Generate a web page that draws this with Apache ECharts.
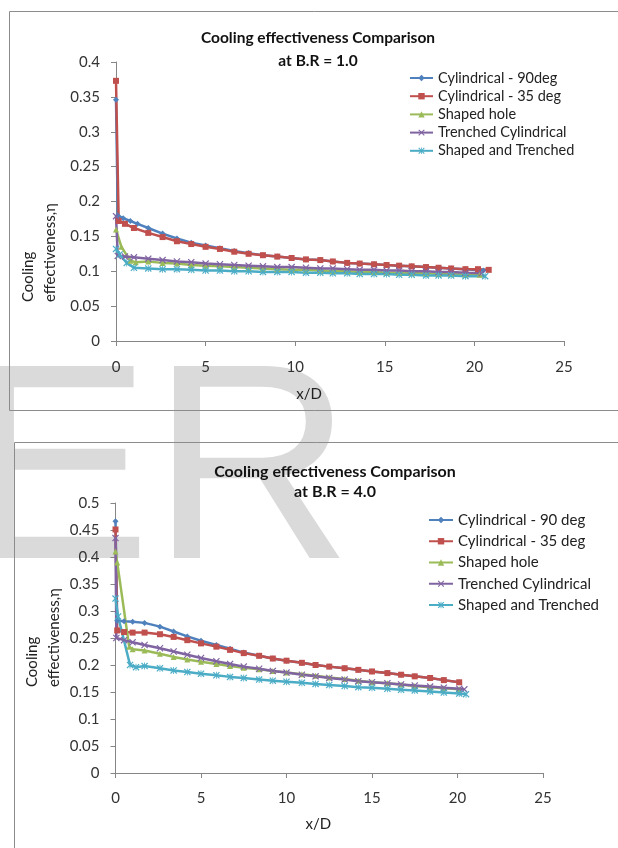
<!DOCTYPE html>
<html>
<head>
<meta charset="utf-8">
<title>Cooling effectiveness Comparison</title>
<script src="https://cdn.jsdelivr.net/npm/echarts@6/dist/echarts.min.js"></script>
<style>
  html, body { margin: 0; padding: 0; background: #fff; }
  #main { width: 618px; height: 848px; }
</style>
</head>
<body>
<div id="main"></div>
<script>
// series names
var namesBR1 = ['Cylindrical - 90deg', 'Cylindrical - 35 deg', 'Shaped hole', 'Trenched Cylindrical', 'Shaped and Trenched'];
var namesBR4 = ['Cylindrical - 90 deg', 'Cylindrical - 35 deg', 'Shaped hole', 'Trenched Cylindrical', 'Shaped and Trenched'];

// ---- B.R = 1.0 (x/D, eta) ----
var br1_cyl90_x = [0, 0.1, 0.4, 0.8, 1.2, 1.8, 2.6, 3.4, 4.2, 5.0, 5.8, 6.6, 7.4, 8.2, 9.0, 9.8, 10.6, 11.4, 12.1, 12.9, 13.6, 14.4, 15.1, 15.8, 16.5, 17.3, 18.0, 18.7, 19.5, 20.5];
var br1_cyl90_y = [0.346, 0.18, 0.176, 0.172, 0.168, 0.162, 0.154, 0.147, 0.141, 0.137, 0.133, 0.129, 0.126, 0.123, 0.121, 0.119, 0.117, 0.116, 0.114, 0.112, 0.111, 0.110, 0.109, 0.108, 0.107, 0.106, 0.105, 0.104, 0.103, 0.101];

var br1_cyl35_x = [0, 0.15, 0.5, 1.0, 1.8, 2.6, 3.4, 4.2, 5.0, 5.8, 6.6, 7.4, 8.2, 9.0, 9.8, 10.6, 11.4, 12.1, 12.9, 13.6, 14.4, 15.1, 15.8, 16.5, 17.3, 18.0, 18.7, 19.5, 20.2, 20.8];
var br1_cyl35_y = [0.373, 0.172, 0.168, 0.162, 0.155, 0.149, 0.143, 0.139, 0.135, 0.132, 0.128, 0.125, 0.123, 0.121, 0.119, 0.117, 0.116, 0.114, 0.112, 0.111, 0.110, 0.109, 0.108, 0.107, 0.106, 0.105, 0.104, 0.103, 0.103, 0.102];

var br1_shaped_x = [0, 0.3, 0.8, 1.1, 1.8, 2.6, 3.4, 4.2, 5.0, 5.8, 6.6, 7.4, 8.2, 9.0, 9.8, 10.6, 11.4, 12.1, 12.9, 13.6, 14.4, 15.1, 15.8, 16.5, 17.3, 18.0, 18.7, 19.5, 20.3];
var br1_shaped_y = [0.16, 0.135, 0.115, 0.113, 0.114, 0.112, 0.111, 0.109, 0.108, 0.107, 0.106, 0.105, 0.104, 0.103, 0.102, 0.102, 0.101, 0.100, 0.100, 0.099, 0.099, 0.098, 0.098, 0.097, 0.097, 0.096, 0.096, 0.095, 0.095];

var br1_trench_x = [0, 0.1, 0.5, 1.0, 1.8, 2.6, 3.4, 4.2, 5.0, 5.8, 6.6, 7.4, 8.2, 9.0, 9.8, 10.6, 11.4, 12.1, 12.9, 13.6, 14.4, 15.1, 15.8, 16.5, 17.3, 18.0, 18.7, 19.5, 20.4];
var br1_trench_y = [0.179, 0.122, 0.121, 0.12, 0.118, 0.116, 0.114, 0.113, 0.111, 0.110, 0.109, 0.108, 0.107, 0.106, 0.106, 0.105, 0.104, 0.104, 0.103, 0.102, 0.102, 0.101, 0.101, 0.100, 0.100, 0.099, 0.099, 0.098, 0.097];

var br1_shtr_x = [0, 0.2, 0.6, 1.0, 1.8, 2.6, 3.4, 4.2, 5.0, 5.8, 6.6, 7.4, 8.2, 9.0, 9.8, 10.6, 11.4, 12.1, 12.9, 13.6, 14.4, 15.1, 15.8, 16.5, 17.3, 18.0, 18.7, 19.5, 20.6];
var br1_shtr_y = [0.132, 0.124, 0.112, 0.105, 0.104, 0.103, 0.103, 0.102, 0.101, 0.101, 0.100, 0.100, 0.099, 0.099, 0.099, 0.098, 0.098, 0.097, 0.097, 0.096, 0.096, 0.096, 0.095, 0.095, 0.094, 0.094, 0.094, 0.093, 0.093];

// ---- B.R = 4.0 ----
var br4_cyl90_x = [0, 0.1, 0.5, 1.0, 1.7, 2.6, 3.4, 4.2, 5.0, 5.9, 6.7, 7.5, 8.4, 9.2, 10.0, 10.9, 11.7, 12.5, 13.4, 14.2, 15.0, 15.9, 16.7, 17.5, 18.4, 19.2, 20.1];
var br4_cyl90_y = [0.466, 0.282, 0.281, 0.280, 0.278, 0.271, 0.262, 0.253, 0.245, 0.237, 0.230, 0.223, 0.217, 0.212, 0.208, 0.204, 0.200, 0.197, 0.194, 0.191, 0.188, 0.185, 0.182, 0.179, 0.176, 0.172, 0.168];

var br4_cyl35_x = [0, 0.1, 0.5, 1.0, 1.7, 2.6, 3.4, 4.2, 5.0, 5.9, 6.7, 7.5, 8.4, 9.2, 10.0, 10.9, 11.7, 12.5, 13.4, 14.2, 15.0, 15.9, 16.7, 17.5, 18.4, 19.2, 20.1];
var br4_cyl35_y = [0.451, 0.264, 0.261, 0.260, 0.260, 0.257, 0.252, 0.246, 0.240, 0.234, 0.228, 0.222, 0.217, 0.212, 0.208, 0.204, 0.200, 0.197, 0.194, 0.191, 0.188, 0.185, 0.182, 0.179, 0.176, 0.172, 0.168];

var br4_shaped_x = [0, 0.1, 0.8, 1.0, 1.7, 2.6, 3.4, 4.2, 5.0, 5.9, 6.7, 7.5, 8.4, 9.2, 10.0, 10.9, 11.7, 12.5, 13.4, 14.2, 15.0, 15.9, 16.7, 17.5, 18.4, 19.2, 20.1];
var br4_shaped_y = [0.41, 0.39, 0.234, 0.229, 0.227, 0.221, 0.215, 0.210, 0.206, 0.202, 0.198, 0.195, 0.192, 0.189, 0.186, 0.183, 0.180, 0.177, 0.174, 0.171, 0.168, 0.166, 0.164, 0.161, 0.159, 0.157, 0.155];

var br4_trench_x = [0, 0.05, 0.5, 1.0, 1.7, 2.6, 3.4, 4.2, 5.0, 5.9, 6.7, 7.5, 8.4, 9.2, 10.0, 10.9, 11.7, 12.5, 13.4, 14.2, 15.0, 15.9, 16.7, 17.5, 18.4, 19.2, 20.1, 20.4];
var br4_trench_y = [0.435, 0.25, 0.246, 0.242, 0.237, 0.231, 0.225, 0.219, 0.213, 0.207, 0.202, 0.197, 0.193, 0.189, 0.186, 0.182, 0.179, 0.176, 0.173, 0.170, 0.168, 0.166, 0.164, 0.162, 0.160, 0.158, 0.156, 0.155];

var br4_shtr_x = [0, 0.15, 0.85, 1.2, 1.7, 2.6, 3.4, 4.2, 5.0, 5.9, 6.7, 7.5, 8.4, 9.2, 10.0, 10.9, 11.7, 12.5, 13.4, 14.2, 15.0, 15.9, 16.7, 17.5, 18.4, 19.2, 20.1, 20.5];
var br4_shtr_y = [0.323, 0.29, 0.2, 0.196, 0.198, 0.194, 0.19, 0.187, 0.184, 0.181, 0.178, 0.176, 0.173, 0.171, 0.169, 0.167, 0.165, 0.163, 0.161, 0.159, 0.158, 0.156, 0.154, 0.153, 0.151, 0.149, 0.147, 0.146];

// tick values of the axes
var xTicks = [0, 5, 10, 15, 20, 25];
var yMaxBR1 = 0.4, yMaxBR4 = 0.5, yStep = 0.05;

var colors = ['#4F81BD', '#C0504D', '#9BBB59', '#8064A2', '#4BACC6'];
var xMark = 'path://M0,1.2L1.2,0L5,3.8L8.8,0L10,1.2L6.2,5L10,8.8L8.8,10L5,6.2L1.2,10L0,8.8L3.8,5Z';
var starMark = 'path://M0,1.2L1.2,0L4.4,3.2L4.4,0L5.6,0L5.6,3.2L8.8,0L10,1.2L6.2,5L10,8.8L8.8,10L5.6,6.8L5.6,10L4.4,10L4.4,6.8L1.2,10L0,8.8L3.8,5Z';
var symbols = ['diamond', 'rect', 'triangle', xMark, starMark];
var symbolSizes = [6, 6, 6, 7, 7];
var font = 'Lato';

function pairs(xs, ys) {
    var out = [];
    for (var i = 0; i < xs.length; i++) out.push([xs[i], ys[i]]);
    return out;
}

function makeSeries(names, sets, idx) {
    var list = [];
    for (var i = 0; i < names.length; i++) {
        list.push({
            type: 'line',
            name: names[i],
            xAxisIndex: idx,
            yAxisIndex: idx,
            data: pairs(sets[i][0], sets[i][1]),
            symbol: symbols[i],
            symbolSize: symbolSizes[i],
            showAllSymbol: true,
            color: colors[i],
            lineStyle: { width: 2.5, color: colors[i] },
            itemStyle: { color: colors[i] }
        });
    }
    return list;
}

function xAxisOf(idx, gapRight, nameGap, margin) {
    return {
        type: 'value', gridIndex: idx, min: xTicks[0], max: xTicks[xTicks.length - 1], interval: 5,
        name: 'x/D', nameLocation: 'middle', nameGap: nameGap,
        nameTextStyle: { fontFamily: font, fontSize: 15, color: '#222', padding: [0, gapRight, 0, 0] },
        axisLine: { lineStyle: { color: '#868686', width: 1 } },
        axisTick: { show: true, length: 5, lineStyle: { color: '#868686' } },
        splitLine: { show: false },
        axisLabel: { fontFamily: font, fontSize: 15, color: '#333', margin: margin }
    };
}

function yAxisOf(idx, max) {
    return {
        type: 'value', gridIndex: idx, min: 0, max: max, interval: yStep,
        axisLine: { show: true, lineStyle: { color: '#868686', width: 1 } },
        axisTick: { show: true, length: 5, lineStyle: { color: '#868686' } },
        splitLine: { show: false },
        axisLabel: { fontFamily: font, fontSize: 15, color: '#333', margin: 16 }
    };
}

var chart = echarts.init(document.getElementById('main'), null, { renderer: 'canvas' });

var option = {
    animation: false,
    backgroundColor: '#fff',
    title: [{
        text: 'Cooling effectiveness Comparison\nat B.R = 1.0',
        left: 318, top: 26, textAlign: 'center', padding: 0,
        textStyle: { fontFamily: font, fontSize: 15.5, fontWeight: 'bold', color: '#111', lineHeight: 23 }
    }, {
        text: 'Cooling effectiveness Comparison\nat B.R = 4.0',
        left: 335, top: 462, textAlign: 'center', padding: 0,
        textStyle: { fontFamily: font, fontSize: 16, fontWeight: 'bold', color: '#111', lineHeight: 20 }
    }],
    legend: [{
        orient: 'vertical', left: 409, top: 69, padding: 0,
        itemWidth: 23, itemHeight: 8, itemGap: 0.2,
        data: namesBR1,
        textStyle: { fontFamily: font, fontSize: 14.5, color: '#222', lineHeight: 18 }
    }, {
        orient: 'vertical', left: 428, top: 509.5, padding: 0,
        itemWidth: 24, itemHeight: 8, itemGap: 0.25,
        data: namesBR4,
        textStyle: { fontFamily: font, fontSize: 15, color: '#222', lineHeight: 21 }
    }],
    grid: [
        { left: 116, right: 54, top: 62, bottom: 507 },
        { left: 115.5, right: 75, top: 503, bottom: 75 }
    ],
    xAxis: [xAxisOf(0, 62, 46, 19), xAxisOf(1, 22, 44, 18)],
    yAxis: [yAxisOf(0, yMaxBR1), yAxisOf(1, yMaxBR4)],
    graphic: [
        // watermark behind the charts
        {
            type: 'text', x: -35, y: 481, z: -10, silent: true,
            style: { text: 'ER', font: '279px "Liberation Sans"', fill: '#dadada', align: 'left', verticalAlign: 'middle' }
        },
        // chart frames
        {
            type: 'rect', z: -5, silent: true,
            shape: { x: 9.5, y: 11.5, width: 620, height: 399 },
            style: { fill: null, stroke: '#8c8c8c', lineWidth: 1 }
        },
        {
            type: 'rect', z: -5, silent: true,
            shape: { x: 14.5, y: 442.5, width: 620, height: 420 },
            style: { fill: null, stroke: '#8c8c8c', lineWidth: 1 }
        },
        // y axis titles
        {
            type: 'text', x: 17, y: 302, rotation: Math.PI / 2,
            style: { text: 'Cooling\neffectiveness,η', font: '15px Lato', fill: '#222', align: 'left', verticalAlign: 'top', lineHeight: 22 }
        },
        {
            type: 'text', x: 21, y: 687, rotation: Math.PI / 2,
            style: { text: 'Cooling\neffectiveness,η', font: '15px Lato', fill: '#222', align: 'left', verticalAlign: 'top', lineHeight: 22 }
        }
    ],
    series: makeSeries(namesBR1, [
        [br1_cyl90_x, br1_cyl90_y],
        [br1_cyl35_x, br1_cyl35_y],
        [br1_shaped_x, br1_shaped_y],
        [br1_trench_x, br1_trench_y],
        [br1_shtr_x, br1_shtr_y]
    ], 0).concat(makeSeries(namesBR4, [
        [br4_cyl90_x, br4_cyl90_y],
        [br4_cyl35_x, br4_cyl35_y],
        [br4_shaped_x, br4_shaped_y],
        [br4_trench_x, br4_trench_y],
        [br4_shtr_x, br4_shtr_y]
    ], 1))
};

chart.setOption(option);
</script>
</body>
</html>
